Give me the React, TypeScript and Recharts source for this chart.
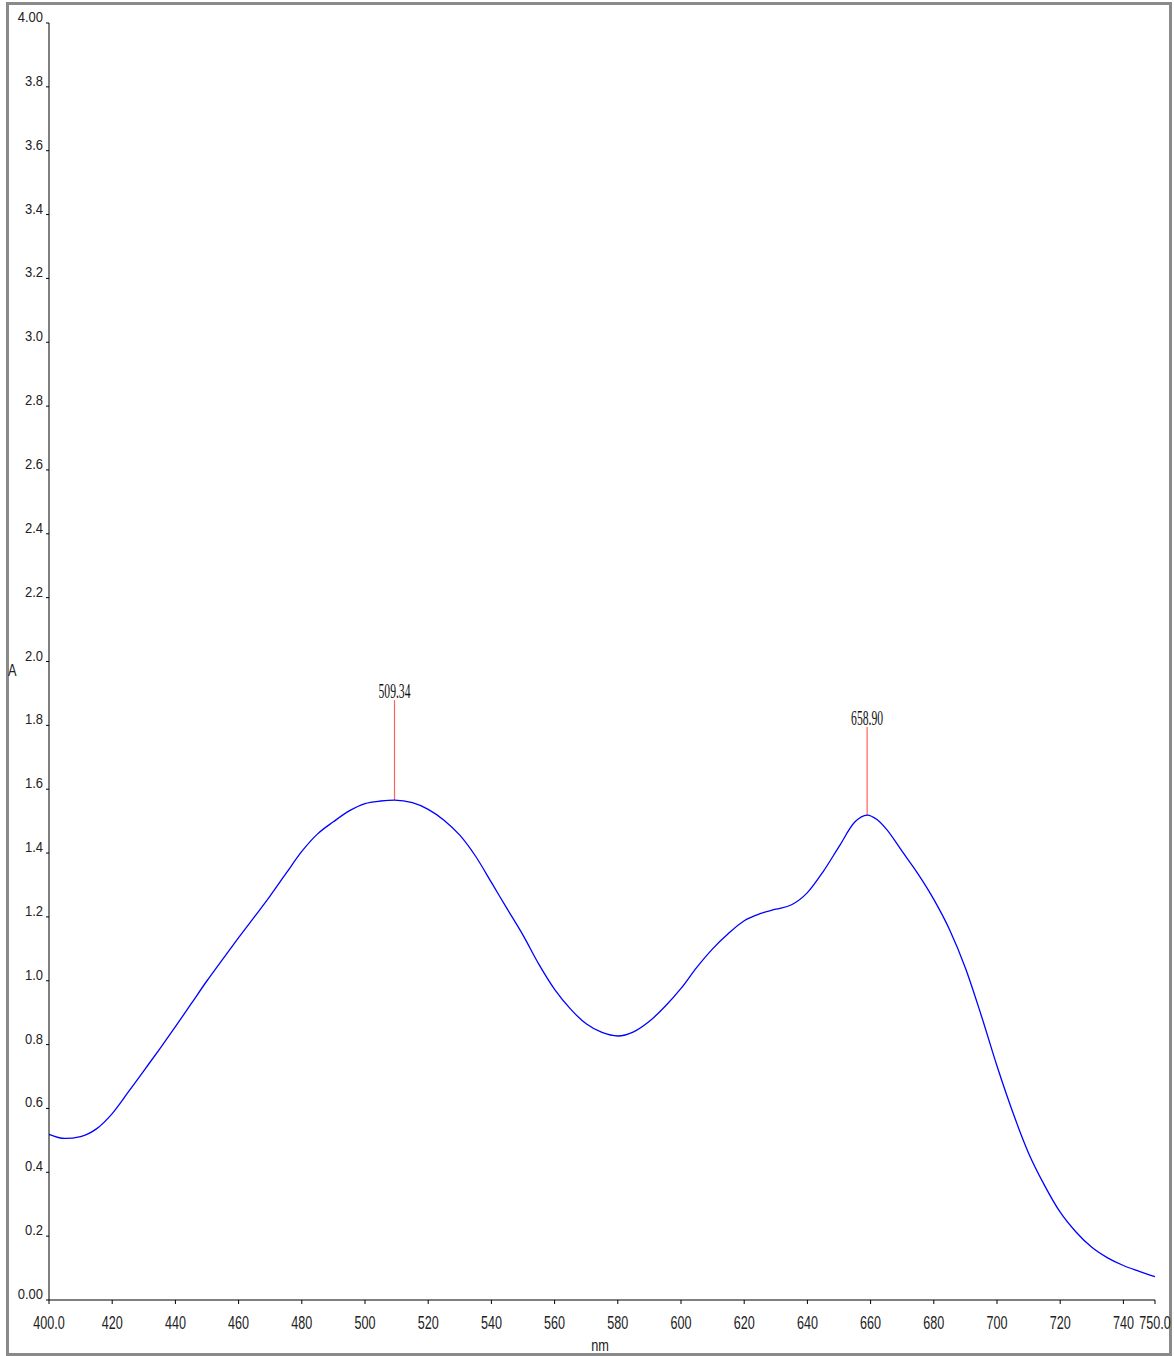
import { LineChart, Line, XAxis, YAxis, ReferenceLine } from 'recharts';

// wavelength (nm) and absorbance
const wavelengths = [
  400, 405, 410, 415, 420, 425, 430, 435, 440, 445, 450, 455, 460, 465, 470, 475, 480, 485,
  490, 495, 500, 505, 509.34, 515, 520, 525, 530, 535, 540, 545, 550, 555, 560, 565, 570,
  575, 580, 585, 590, 595, 600, 605, 610, 615, 620, 625, 630, 635, 640, 645, 650, 655,
  658.9, 662, 665, 670, 675, 680, 685, 690, 695, 700, 705, 710, 715, 720, 725, 730, 735,
  740, 745, 750,
];
const absorbance = [
  0.519, 0.506, 0.512, 0.536, 0.584, 0.65, 0.718, 0.786, 0.856, 0.928, 1.0, 1.068, 1.135, 1.2, 1.266, 1.336, 1.405, 1.46,
  1.498, 1.532, 1.555, 1.563, 1.566, 1.558, 1.537, 1.503, 1.456, 1.39, 1.308, 1.225, 1.143, 1.052, 0.973, 0.912, 0.865,
  0.838, 0.827, 0.84, 0.873, 0.92, 0.976, 1.042, 1.1, 1.148, 1.188, 1.21, 1.224, 1.238, 1.276, 1.342, 1.42, 1.497,
  1.519, 1.505, 1.475, 1.405, 1.335, 1.255, 1.16, 1.04, 0.892, 0.733, 0.588, 0.46, 0.36, 0.275, 0.213, 0.165, 0.132,
  0.108, 0.09, 0.073,
];

const peakNm = [509.34, 658.9];
const peakA = [1.566, 1.519];
const peakMarkTop = [1.879, 1.795];
const peakLabels = ['509.34', '658.90'];

const xTicks = [400, 420, 440, 460, 480, 500, 520, 540, 560, 580, 600, 620, 640, 660, 680, 700, 720, 740, 750];
const yTicks = [0, 0.2, 0.4, 0.6, 0.8, 1.0, 1.2, 1.4, 1.6, 1.8, 2.0, 2.2, 2.4, 2.6, 2.8, 3.0, 3.2, 3.4, 3.6, 3.8, 4.0];

const data = wavelengths.map((nm, i) => ({ nm, a: absorbance[i] }));

const sans = "'Liberation Sans', Arial, sans-serif";

const fmtX = (v: number) => (v === 400 || v === 750 ? v.toFixed(1) : String(v));
const fmtY = (v: number) => (v === 0 || v === 4 ? v.toFixed(2) : v.toFixed(1));

function XTick(props: any) {
  const { x, y, payload } = props;
  return (
    <text
      transform={`translate(${x},${y + 23}) scale(0.7,1)`}
      textAnchor="middle"
      fontFamily={sans}
      fontSize={18}
      fill="#222"
    >
      {fmtX(payload.value)}
    </text>
  );
}

function YTick(props: any) {
  const { x, y, payload } = props;
  return (
    <text
      transform={`translate(${x - 1},${y - 1}) scale(0.84,1)`}
      textAnchor="end"
      fontFamily={sans}
      fontSize={15.5}
      fill="#222"
    >
      {fmtY(payload.value)}
    </text>
  );
}

function PeakLabel(props: any) {
  const { viewBox, text } = props;
  return (
    <text
      x={viewBox.x}
      y={viewBox.y - 2}
      textAnchor="middle"
      fontFamily="'Liberation Serif', serif"
      fontSize={20}
      textLength={32}
      lengthAdjust="spacingAndGlyphs"
      fill="#111"
    >
      {text}
    </text>
  );
}

export default function App() {
  return (
    <div style={{ position: 'absolute', left: 0, top: 0, width: 1174, height: 1356, background: '#fff' }}>
      <div
        style={{
          position: 'absolute',
          left: 6,
          top: 2,
          width: 1166,
          height: 1354,
          boxSizing: 'border-box',
          border: '3px solid #8a8a8a',
        }}
      />
      <div style={{ position: 'absolute', left: 0, top: 0 }}>
        <LineChart width={1174} height={1356} data={data} margin={{ top: 23, right: 19, bottom: 0, left: 0 }}>
          <XAxis
            dataKey="nm"
            type="number"
            domain={[400, 750]}
            ticks={xTicks}
            interval={0}
            height={56}
            tickSize={4}
            tickMargin={2}
            axisLine={{ stroke: '#000' }}
            tickLine={{ stroke: '#000' }}
            tick={<XTick />}
          />
          <YAxis
            type="number"
            domain={[0, 4]}
            ticks={yTicks}
            interval={0}
            width={49}
            tickSize={3}
            tickMargin={2}
            axisLine={{ stroke: '#000' }}
            tickLine={{ stroke: '#000' }}
            tick={<YTick />}
          />
          {peakNm.map((nm, i) => (
            <ReferenceLine
              key={nm}
              segment={[
                { x: nm, y: peakA[i] },
                { x: nm, y: peakMarkTop[i] },
              ]}
              stroke="#ff6060"
              strokeWidth={1.2}
              label={<PeakLabel text={peakLabels[i]} />}
            />
          ))}
          <Line
            type="monotone"
            dataKey="a"
            stroke="#0000ff"
            strokeWidth={1.3}
            dot={false}
            isAnimationActive={false}
          />
        </LineChart>
      </div>
      <div
        style={{
          position: 'absolute',
          left: 7,
          top: 662,
          fontFamily: sans,
          fontSize: 16,
          color: '#222',
          transform: 'scaleX(0.8)',
        }}
      >
        A
      </div>
      <div
        style={{
          position: 'absolute',
          left: 560,
          width: 80,
          top: 1336,
          textAlign: 'center',
          fontFamily: sans,
          fontSize: 17,
          color: '#222',
          transform: 'scaleX(0.75)',
        }}
      >
        nm
      </div>
    </div>
  );
}
